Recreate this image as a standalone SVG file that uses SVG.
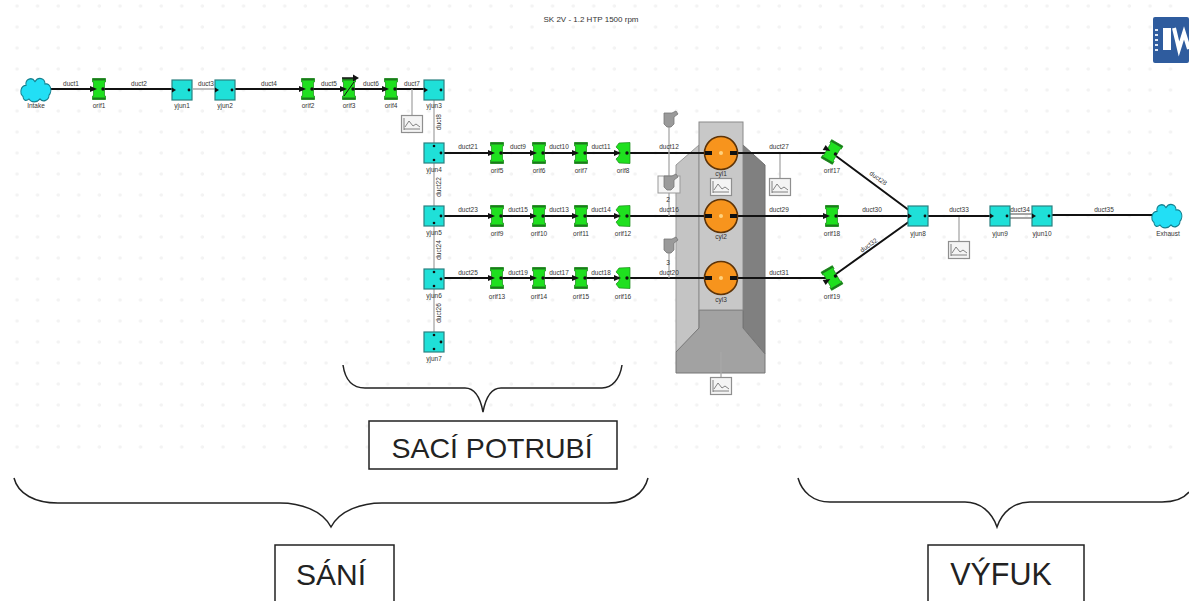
<svg xmlns="http://www.w3.org/2000/svg" width="1189" height="601" viewBox="0 0 1189 601">
<style>
text{font-family:"Liberation Sans",Arial,sans-serif;fill:#333}
.l{font-size:6.5px;text-anchor:middle}
.big{text-anchor:middle;fill:#222}
.d{fill:none;stroke:#111;stroke-width:2}
.t{fill:none;stroke:#a8a8a8;stroke-width:1.3}
.j{fill:#1fe0d8;stroke:#2a8080;stroke-width:1.2}
.o{fill:#1fe01f;stroke:#1a8a1a;stroke-width:.7}
.ob{fill:#1c7a1c}
.p{fill:#111}
.c{fill:#f7941d;stroke:#5e3408;stroke-width:1.6}
.cl{fill:#22dff5;stroke:#15808f;stroke-width:1}
.m{fill:#f4f4f4;stroke:#8f8f8f;stroke-width:1.2}
.mc{fill:none;stroke:#666;stroke-width:.8}
.b{fill:none;stroke:#222;stroke-width:1.5}
.box{fill:#fff;stroke:#222;stroke-width:1.5}
.inj{fill:#9a9a9a;stroke:#777;stroke-width:.8}
</style>
<defs>
<pattern id="grid" width="20.6" height="21" patternUnits="userSpaceOnUse"><circle cx="17" cy="6" r="1.8" fill="#f3f3f3"/></pattern>
<g id="junc"><rect class="j" x="-10" y="-10" width="20" height="20"/><path class="p" d="M-10-2.5L-6 0L-10 2.5Z"/><circle class="p" cx="7" cy="0" r="1.4"/></g>
<g id="juncv"><rect class="j" x="-10" y="-10" width="20" height="20"/><circle class="p" cx="0" cy="-7" r="1.3"/><circle class="p" cx="0" cy="7" r="1.3"/><circle class="p" cx="7" cy="0" r="1.4"/></g>
<g id="orif"><path class="o" d="M-6.5-10.5H6.5V-7H5.5V7H6.5V10.5H-6.5V7H-5.5V-7H-6.5Z"/><rect class="ob" x="-6.5" y="-10.5" width="13" height="2"/><rect class="ob" x="-6.5" y="8.5" width="13" height="2"/><path class="p" d="M-9-3L-2 0L-9 3Z"/><circle class="p" cx="4" cy="0" r="1.7"/></g>
<g id="orifb"><path class="o" d="M-7-6L-4-10L7-10.5V10.5L-4 10L-7 6L-4 3V-3Z"/><path class="p" d="M-9-3L-2 0L-9 3Z"/><circle class="p" cx="4" cy="0" r="1.7"/></g>
<g id="mon"><rect class="m" x="-10.5" y="-8.5" width="21" height="17"/><path class="mc" d="M-8 6V-6M-8 5H8M-7 3L-3-3L1 2L4 0L8 3"/></g>
<g id="cyl"><circle class="c" r="16.5"/><circle cx="0" cy="0" r="2" fill="#ffd27f"/><rect class="p" x="-16" y="-2" width="7" height="4"/><rect class="p" x="9" y="-2" width="7" height="4"/></g>
<g id="inj"><path class="inj" d="M-6-14H2L6-16L8-13L4-10V-3L1 0H-3L-6-3Z"/></g>
<path id="cloud" d="M-13 6C-17 3-15-3-10-3C-11-8-4-10-1-6C2-10 9-9 9-4C14-5 17 1 13 5C13 9 7 11 4 8C1 11-5 11-7 8C-10 10-13 9-13 6Z"/>
</defs>
<rect width="1189" height="601" fill="#fff"/>
<rect width="1189" height="452" fill="url(#grid)"/>
<text x="591" y="22" style="font-size:8px;text-anchor:middle">SK 2V - 1.2 HTP 1500 rpm</text>
<g id="logo"><rect x="1153" y="17" width="36" height="46" rx="2" fill="#2f5c9e"/><path d="M1155 29h3v2h-3zM1155 34h3v2h-3zM1155 39h3v2h-3zM1155 44h3v2h-3zM1155 49h3v2h-3z" fill="#dfe7f3"/><rect x="1163" y="28" width="8" height="22" fill="#fff"/><path d="M1174 28L1179 49L1184 33L1189 49" fill="none" stroke="#fff" stroke-width="4"/></g>
<g id="engine">
<path d="M676 165L699 145V352L676 352Z" fill="#c4c4c4" stroke="#999"/>
<path d="M743 145L765 165V354L743 328Z" fill="#808080" stroke="#707070"/>
<path d="M699 310H743V328L765 354V373H676V352L699 328Z" fill="#a2a2a2" stroke="#777"/>
<rect x="699" y="122" width="44" height="188" fill="#c8c8c8" stroke="#8a8a8a"/>
</g>
<g id="connectors">
<path class="d" d="M36 89H173M235 89H425M444 153H705M444 216H705M444 278H705"/>
<path class="t" d="M193 89H215M434 100V143M434 163V206M434 226V269M434 289V332M412 89V115M780 153V179M959 216V242M721 352V378M669 127V176M669 190V216M669 253V278"/>
<path class="d" d="M737 153H826M737 216H826M737 278H826M836 156L910 211M836 216H910M836 274L910 221M927 216H991M1052 215H1158"/>
<path d="M1010 214H1033M1010 218H1033" stroke="#888" stroke-width="1.5" fill="none"/>
</g>
<g id="intake"><use href="#cloud" transform="translate(36 89) scale(1 1.25)" class="cl"/></g>
<g id="exhaust"><use href="#cloud" transform="translate(1167 215) scale(1 1.25)" class="cl"/></g>
<g id="orifs">
<use href="#orif" x="99" y="89"/><use href="#orif" x="308" y="89"/><use href="#orif" x="349" y="89"/><use href="#orif" x="391" y="89"/>
<use href="#orif" x="497" y="153"/><use href="#orif" x="539" y="153"/><use href="#orif" x="581" y="153"/><use href="#orifb" x="623" y="153"/>
<use href="#orif" x="497" y="216"/><use href="#orif" x="539" y="216"/><use href="#orif" x="581" y="216"/><use href="#orifb" x="623" y="216"/>
<use href="#orif" x="497" y="278"/><use href="#orif" x="539" y="278"/><use href="#orif" x="581" y="278"/><use href="#orifb" x="623" y="278"/>
<use href="#orif" transform="translate(832 152) rotate(30)"/><use href="#orif" x="832" y="216"/><use href="#orif" transform="translate(832 278) rotate(-30)"/>
<path d="M342 78H356" stroke="#111" stroke-width="1.5"/><path class="p" d="M353 74.5L359 78L353 81.5Z"/><path d="M344 96L354 82" stroke="#111" stroke-width="1"/>
</g>
<g id="junctions">
<use href="#junc" x="182" y="90"/><use href="#junc" x="225" y="90"/><use href="#junc" x="434" y="90"/><use href="#juncv" x="434" y="153"/><use href="#juncv" x="434" y="216"/><use href="#juncv" x="434" y="279"/><use href="#juncv" x="434" y="342"/><use href="#junc" x="918" y="216"/><use href="#junc" x="1000" y="216"/><use href="#junc" x="1042" y="216"/>
</g>
<g id="monitors">
<use href="#mon" x="412" y="124"/><use href="#mon" x="721" y="187"/><use href="#mon" x="780" y="187"/><use href="#mon" x="721" y="386"/><use href="#mon" x="959" y="250"/>
</g>
<g id="cylinders"><use href="#cyl" x="721" y="153"/><use href="#cyl" x="721" y="216"/><use href="#cyl" x="721" y="278"/></g>
<g id="injectors"><use href="#inj" x="670" y="127"/><rect x="658" y="176" width="22" height="17" fill="#f5f5f5" stroke="#999"/><use href="#inj" x="670" y="190"/><use href="#inj" x="670" y="253"/></g>
<g id="labels">
<text class="l" x="668" y="202">2</text><text class="l" x="668" y="265">3</text>
<text class="l" x="71" y="86">duct1</text><text class="l" x="139" y="86">duct2</text><text class="l" x="206" y="86">duct3</text><text class="l" x="269" y="86">duct4</text><text class="l" x="329" y="86">duct5</text><text class="l" x="371" y="86">duct6</text><text class="l" x="412" y="86">duct7</text>
<text class="l" x="36" y="108">Intake</text><text class="l" x="99" y="108">orif1</text><text class="l" x="182" y="108">yjun1</text><text class="l" x="225" y="108">yjun2</text><text class="l" x="308" y="108">orif2</text><text class="l" x="349" y="108">orif3</text><text class="l" x="391" y="108">orif4</text><text class="l" x="434" y="108">yjun3</text>
<text class="l" x="468" y="149">duct21</text><text class="l" x="518" y="149">duct9</text><text class="l" x="559" y="149">duct10</text><text class="l" x="601" y="149">duct11</text><text class="l" x="669" y="149">duct12</text>
<text class="l" x="468" y="212">duct23</text><text class="l" x="518" y="212">duct15</text><text class="l" x="559" y="212">duct13</text><text class="l" x="601" y="212">duct14</text><text class="l" x="669" y="212">duct16</text>
<text class="l" x="468" y="275">duct25</text><text class="l" x="518" y="275">duct19</text><text class="l" x="559" y="275">duct17</text><text class="l" x="601" y="275">duct18</text><text class="l" x="669" y="275">duct20</text>
<text class="l" x="497" y="173">orif5</text><text class="l" x="539" y="173">orif6</text><text class="l" x="581" y="173">orif7</text><text class="l" x="623" y="173">orif8</text>
<text class="l" x="497" y="236">orif9</text><text class="l" x="539" y="236">orif10</text><text class="l" x="581" y="236">orif11</text><text class="l" x="623" y="236">orif12</text>
<text class="l" x="497" y="299">orif13</text><text class="l" x="539" y="299">orif14</text><text class="l" x="581" y="299">orif15</text><text class="l" x="623" y="299">orif16</text>
<text class="l" x="434" y="172">yjun4</text><text class="l" x="434" y="235">yjun5</text><text class="l" x="434" y="298">yjun6</text><text class="l" x="434" y="361">yjun7</text>
<text class="l" transform="translate(441 122) rotate(-90)">duct8</text><text class="l" transform="translate(441 187) rotate(-90)">duct22</text><text class="l" transform="translate(441 250) rotate(-90)">duct24</text><text class="l" transform="translate(441 313) rotate(-90)">duct26</text>
<text class="l" x="721" y="176">cyl1</text><text class="l" x="721" y="239">cyl2</text><text class="l" x="721" y="302">cyl3</text>
<text class="l" x="779" y="149">duct27</text><text class="l" x="779" y="212">duct29</text><text class="l" x="779" y="275">duct31</text>
<text class="l" x="832" y="173">orif17</text><text class="l" x="832" y="236">orif18</text><text class="l" x="832" y="299">orif19</text>
<text class="l" transform="translate(877 180) rotate(36)">duct28</text><text class="l" x="872" y="212">duct30</text><text class="l" transform="translate(870 247) rotate(-36)">duct32</text>
<text class="l" x="959" y="212">duct33</text><text class="l" x="1020" y="212">duct34</text><text class="l" x="1104" y="212">duct35</text>
<text class="l" x="918" y="236">yjun8</text><text class="l" x="1000" y="236">yjun9</text><text class="l" x="1042" y="236">yjun10</text><text class="l" x="1168" y="236">Exhaust</text>
</g>
<g id="annotations">
<path class="b" d="M343 365C345 379 352 388 365 388H465C474 388 480 396 483 412C486 396 492 388 501 388H602C612 388 620 379 622 365"/>
<rect class="box" x="369" y="421" width="248" height="48"/><text class="big" x="492" y="458" font-size="28.5">SACÍ POTRUBÍ</text>
<path class="b" d="M14 478C18 494 35 503 58 503H280C300 503 322 510 331 527C340 510 362 503 382 503H608C630 503 644 494 648 478"/>
<rect class="box" x="275" y="545" width="119" height="62"/><text class="big" x="331" y="585" font-size="30">SÁNÍ</text>
<path class="b" d="M798 478C802 492 813 502 830 502H965C980 502 992 512 997 527C1002 512 1014 502 1030 502H1162C1175 502 1184 498 1189 492"/>
<rect class="box" x="928" y="545" width="156" height="62"/><text class="big" x="1001" y="585" font-size="30.5">VÝFUK</text>
</g>
</svg>
